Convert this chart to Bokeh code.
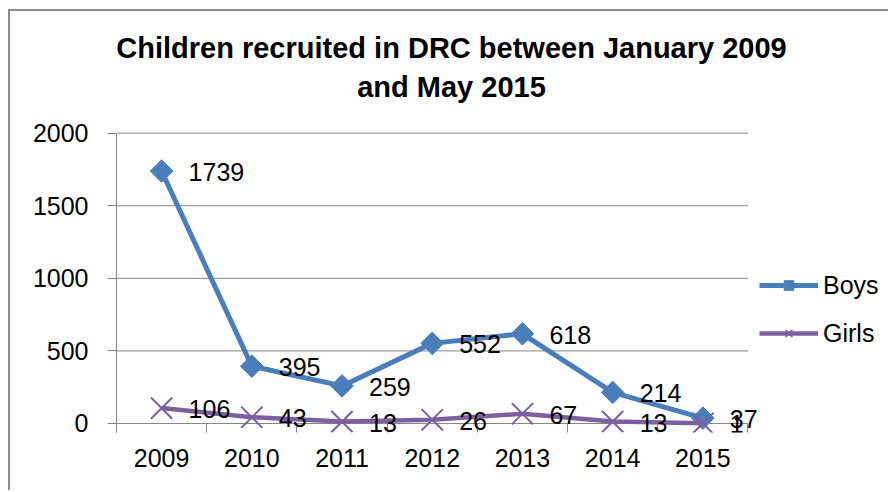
import math
from bokeh.plotting import figure
from bokeh.models import (Range1d, FixedTicker, ColumnDataSource, LabelSet, Label,
                          Legend, LegendItem)
from bokeh.core.properties import value
from bokeh.embed import file_html
from bokeh.resources import INLINE

# ---- data ----
years = ["2009", "2010", "2011", "2012", "2013", "2014", "2015"]
boys = [1739, 395, 259, 552, 618, 214, 37]
girls = [106, 43, 13, 26, 67, 13, 1]
y_ticks = [0, 500, 1000, 1500, 2000]
title_line1 = "Children recruited in DRC between January 2009"
title_line2 = "and May 2015"

BLUE = "#4a7ebb"
PURPLE = "#7d5fa0"
GRAY = "#868686"
FONT = "Liberation Sans"

n = len(years)
xpos = [i + 0.5 for i in range(n)]

src = ColumnDataSource(dict(
    x=xpos, boys=boys, girls=girls,
    boys_txt=[str(v) for v in boys], girls_txt=[str(v) for v in girls],
))
grid_src = ColumnDataSource(dict(x0=[0] * len(y_ticks), x1=[n] * len(y_ticks),
                                 y=y_ticks))

# The frame covers the title and legend area too; the plot area is 0..n x 0..2000
p = figure(width=880, height=481, output_backend="svg", toolbar_location=None,
           x_range=Range1d(0, 8.58), y_range=Range1d(-62, 2838),
           min_border_left=106, min_border_right=0, min_border_top=0,
           min_border_bottom=60)
p.styles = {"margin-left": "8px", "margin-top": "9px",
            "border-left": "2px solid #8c8c8c", "border-top": "2px solid #8c8c8c"}
p.outline_line_color = None
p.background_fill_color = "white"
p.border_fill_color = "white"
p.title.visible = False

# x axis: labels at category centres, boundary ticks pointing up to the zero line
xa = p.xaxis[0]
xa.ticker = FixedTicker(ticks=xpos, minor_ticks=list(range(n + 1)))
xa.major_label_overrides = {x: y for x, y in zip(xpos, years)}
xa.major_tick_line_color = None
xa.major_tick_out = 0
xa.major_tick_in = 0
xa.minor_tick_out = 0
xa.minor_tick_in = 9
xa.minor_tick_line_color = GRAY
xa.axis_line_color = None
xa.major_label_standoff = 16
xa.major_label_text_font = FONT
xa.major_label_text_font_size = "25px"
xa.major_label_text_color = "black"

ya = p.yaxis[0]
ya.ticker = FixedTicker(ticks=y_ticks, minor_ticks=[])
ya.bounds = (-62, max(y_ticks))
ya.major_tick_out = 9
ya.major_tick_in = 0
ya.major_tick_line_color = GRAY
ya.axis_line_color = GRAY
ya.major_label_standoff = 19
ya.major_label_text_font = FONT
ya.major_label_text_font_size = "25px"
ya.major_label_text_color = "black"

p.xgrid.grid_line_color = None
p.ygrid.grid_line_color = None
# horizontal gridlines limited to the plot area
p.segment(x0="x0", x1="x1", y0="y", y1="y", source=grid_src,
          line_color=GRAY, line_width=1)

# series
bl = p.line("x", "boys", source=src, line_color=BLUE, line_width=5)
bm = p.scatter("x", "boys", source=src, marker="square", angle=math.pi / 4, size=16,
               fill_color=BLUE, line_color=BLUE, line_width=1)
gl = p.line("x", "girls", source=src, line_color=PURPLE, line_width=4.5)
gm = p.scatter("x", "girls", source=src, marker="x", size=30,
               line_color=PURPLE, line_width=2)

for col in ["boys", "girls"]:
    p.add_layout(LabelSet(x="x", y=col, text=col + "_txt", source=src,
                          x_offset=27, y_offset=-1, text_align="left",
                          text_baseline="middle", text_font=value(FONT),
                          text_font_size=value("25px"), text_color="black"))

# title
for txt, yy in [(title_line1, 384.5), (title_line2, 345.5)]:
    p.add_layout(Label(x=335, y=yy, x_units="screen", y_units="screen", text=txt,
                       text_align="center", text_baseline="alphabetic",
                       text_font=FONT, text_font_style="bold",
                       text_font_size="29px", text_color="black"))

legend = Legend(items=[LegendItem(label="Boys", renderers=[bl, bm]),
                       LegendItem(label="Girls", renderers=[gl, gm])],
                location=(643, 84.5), orientation="vertical",
                glyph_width=59, glyph_height=24, label_height=24, spacing=19,
                label_standoff=5, padding=0, margin=0,
                border_line_color=None, background_fill_alpha=0,
                label_text_font=FONT, label_text_font_size="25px",
                label_text_color="black", label_text_baseline="middle")
p.add_layout(legend, "center")

open("out.html", "w").write(file_html(p, INLINE))
